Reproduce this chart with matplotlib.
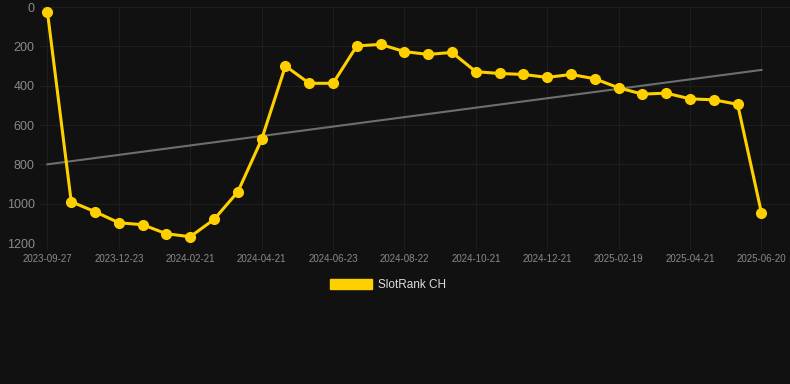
"""
SlotRank CH rank history, dark theme.
"""

import matplotlib
matplotlib.use("Agg")
import matplotlib.pyplot as plt
from matplotlib.patches import Patch

# rank per snapshot (lower = better), categorical x axis
ranks = [25, 990, 1041, 1097, 1107, 1153, 1168, 1080, 940, 673,
         300, 388, 388, 198, 190, 227, 241, 231, 329, 338,
         343, 358, 343, 365, 411, 443, 438, 467, 472, 495, 1047]
tick_labels = ["2023-09-27", "2023-12-23", "2024-02-21", "2024-04-21",
               "2024-06-23", "2024-08-22", "2024-10-21", "2024-12-21",
               "2025-02-19", "2025-04-21", "2025-06-20"]
trend = [800, 320]
y_ticks = [0, 200, 400, 600, 800, 1000, 1200]

BG = "#111111"
YELLOW = "#FFD000"
GRID = "#1e1e1e"
TEXT = "#8a8a8a"

plt.rcParams["font.family"] = ["Liberation Sans", "DejaVu Sans"]

fig = plt.figure(figsize=(7.9, 3.84), dpi=100, facecolor=BG)
ax = fig.add_axes([0.051, 1 - 243 / 384, 1 - 0.051, (243 - 7) / 384])
ax.set_facecolor(BG)

x = list(range(len(ranks)))
ax.plot([x[0], x[-1]], trend, color="#6e6e6e", linewidth=1.5, zorder=2)
ax.plot(x, ranks, color=YELLOW, linewidth=2.2, marker="o", markersize=7,
        markerfacecolor=YELLOW, markeredgecolor=YELLOW, zorder=3)

ax.set_ylim(1200, 0)
ax.set_yticks(y_ticks)
ax.set_yticklabels([str(v) for v in y_ticks])
ax.set_xlim(-0.3, 31.2)
ax.set_xticks(x[::3])
ax.set_xticklabels(tick_labels)

ax.grid(True, color=GRID, linewidth=0.8)
ax.set_axisbelow(True)
for s in ax.spines.values():
    s.set_visible(False)
ax.tick_params(axis="y", length=0, pad=4, labelsize=9, labelcolor=TEXT)
ax.tick_params(axis="x", length=4, color=GRID, pad=4, labelsize=7, labelcolor=TEXT)

handle = Patch(facecolor=YELLOW, edgecolor=YELLOW)
fig.legend([handle], ["SlotRank CH"], loc="center", bbox_to_anchor=(0.491, 1 - 285 / 384),
           frameon=False, fontsize=8.5, labelcolor="#dddddd",
           handlelength=3.5, handleheight=1.0, handletextpad=0.5)

fig.savefig("out.png", dpi=100, facecolor=BG)
